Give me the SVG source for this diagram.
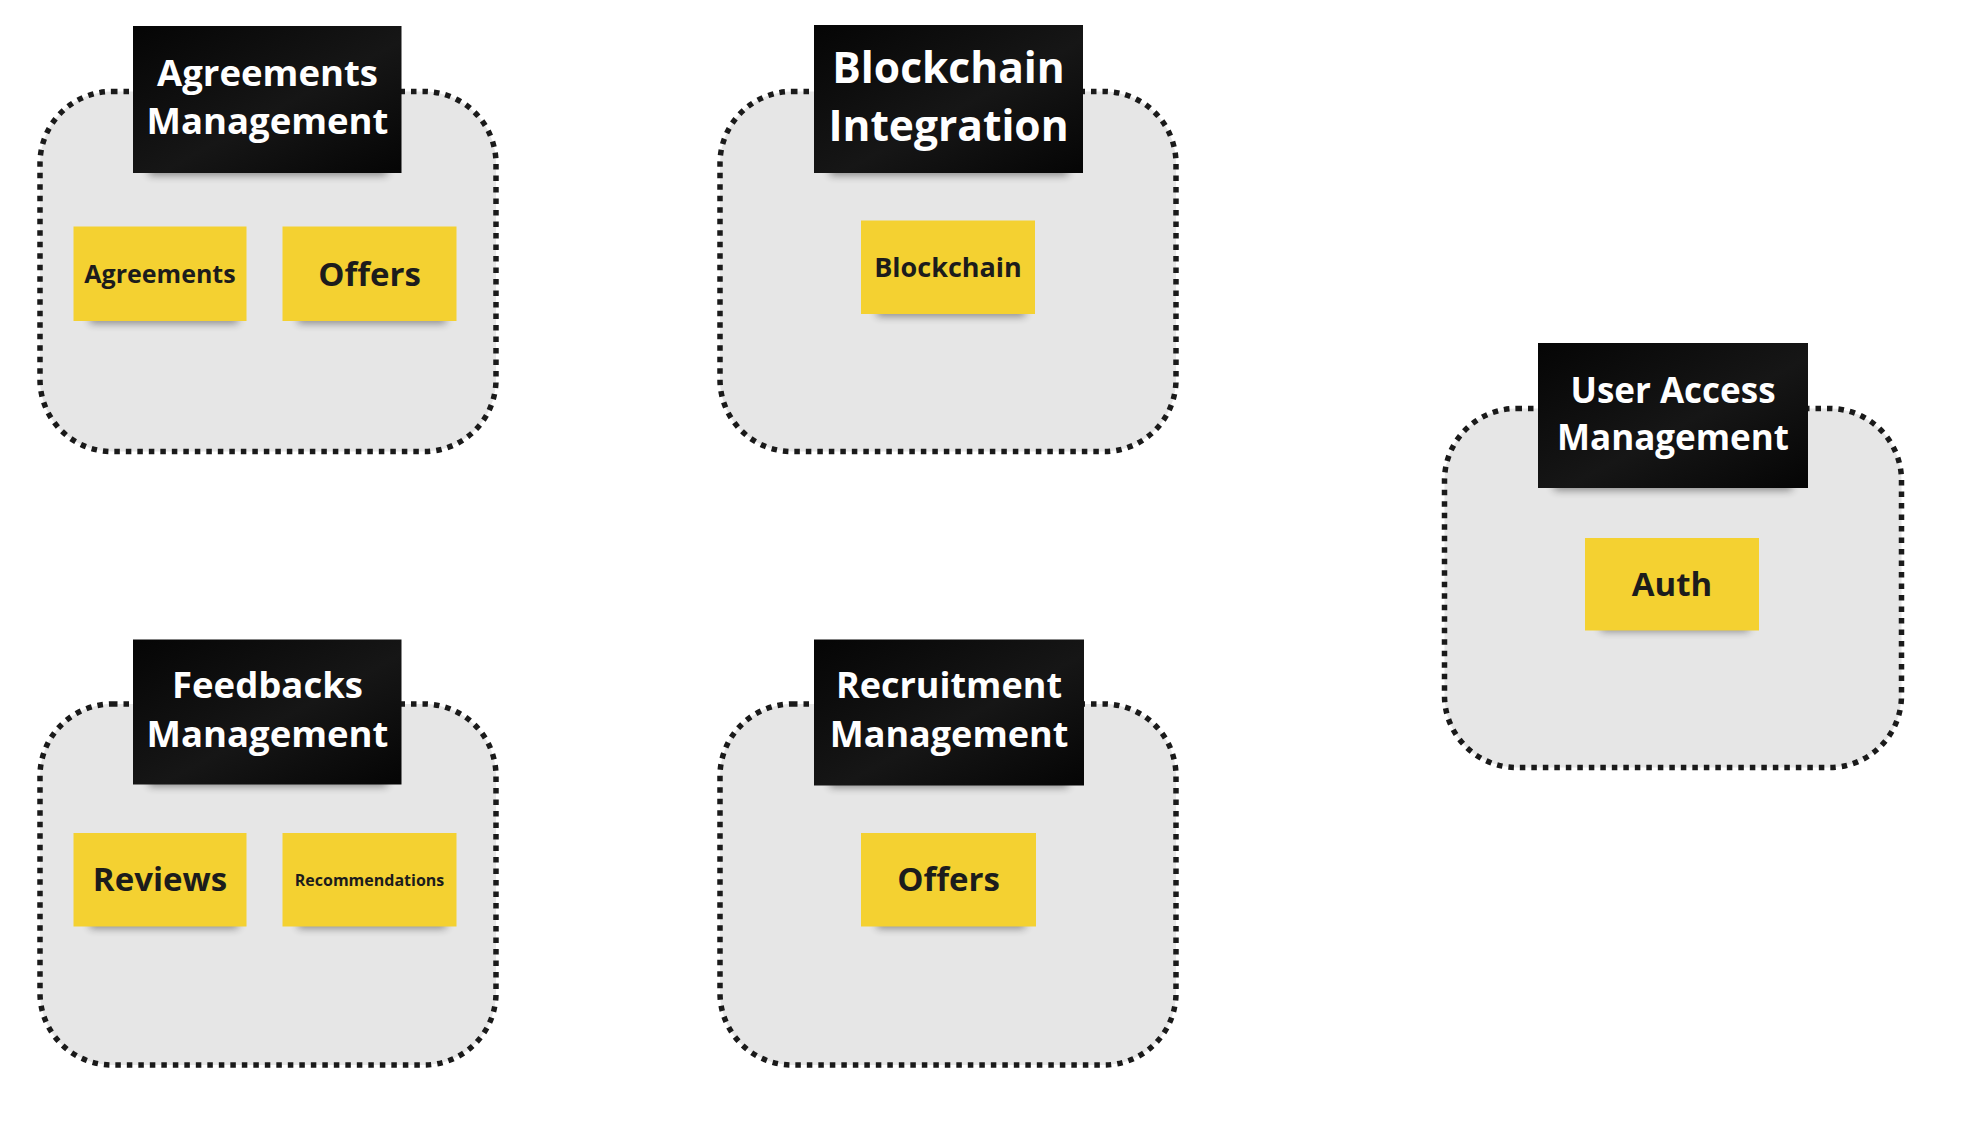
<svg xmlns="http://www.w3.org/2000/svg" width="1965" height="1145" viewBox="0 0 1965 1145">
<style>
.frame{fill:#e6e6e6;stroke:#1a1a1a;stroke-width:5.5;stroke-dasharray:5.5 6}
.hdr{fill:url(#hg)}
.hdrtxt{font-family:"Open Sans","Noto Sans","Liberation Sans",sans-serif;font-weight:700;fill:#ffffff;text-anchor:middle}
.note{fill:#f4d131}
.notetxt{font-family:"Open Sans","Noto Sans","Liberation Sans",sans-serif;font-weight:700;fill:#1c1c1c;text-anchor:middle}
.shadow{fill:#000;opacity:0.45;filter:url(#blur)}
</style>
<defs>
<linearGradient id="hg" x1="0" y1="0" x2="1" y2="1">
<stop offset="0" stop-color="#050505"/>
<stop offset="0.55" stop-color="#161616"/>
<stop offset="1" stop-color="#050505"/>
</linearGradient>
<filter id="blur" x="-20%" y="-100%" width="140%" height="300%">
<feGaussianBlur stdDeviation="4"/>
</filter>
</defs>
<rect width="1965" height="1145" fill="#ffffff"/>

<g id="agreements-management">
<rect class="frame" x="40" y="91.5" width="456" height="360" rx="72"/>
<rect class="shadow" x="149" y="165" width="238" height="10"/>
<rect class="hdr" x="133" y="26" width="268.5" height="147"/>
<text class="hdrtxt" font-size="36.5" x="267.5" y="85.5">Agreements</text>
<text class="hdrtxt" font-size="36.5" x="267.5" y="134">Management</text>
<g id="note-agreements">
<rect class="shadow" x="90" y="314" width="148" height="9"/>
<rect class="note" x="73.5" y="226.5" width="173" height="94.5"/>
<text class="notetxt" font-size="25" x="160" y="282.5">Agreements</text>
</g>
<g id="note-offers-1">
<rect class="shadow" x="298" y="314" width="148" height="9"/>
<rect class="note" x="282.5" y="226.5" width="174" height="94.5"/>
<text class="notetxt" font-size="33" x="369.5" y="285.5">Offers</text>
</g>
</g>

<g id="blockchain-integration">
<rect class="frame" x="720" y="91.5" width="456" height="360" rx="72"/>
<rect class="shadow" x="830" y="165" width="238" height="10"/>
<rect class="hdr" x="814" y="25" width="269" height="148"/>
<text class="hdrtxt" font-size="42.5" x="948.5" y="82.5">Blockchain</text>
<text class="hdrtxt" font-size="42.5" x="948.5" y="141">Integration</text>
<g id="note-blockchain">
<rect class="shadow" x="877" y="307" width="148" height="9"/>
<rect class="note" x="861" y="220.5" width="174" height="93.5"/>
<text class="notetxt" font-size="27" x="948" y="276.5">Blockchain</text>
</g>
</g>

<g id="user-access-management">
<rect class="frame" x="1444.5" y="408.5" width="457" height="359" rx="72"/>
<rect class="shadow" x="1554" y="480" width="238" height="10"/>
<rect class="hdr" x="1538" y="343" width="270" height="145"/>
<text class="hdrtxt" font-size="35" x="1673" y="402.5">User Access</text>
<text class="hdrtxt" font-size="35" x="1673" y="450">Management</text>
<g id="note-auth">
<rect class="shadow" x="1601" y="622" width="148" height="9"/>
<rect class="note" x="1585" y="538" width="174" height="92.5"/>
<text class="notetxt" font-size="33" x="1672" y="595.5">Auth</text>
</g>
</g>

<g id="feedbacks-management">
<rect class="frame" x="40" y="704" width="456" height="361" rx="72"/>
<rect class="shadow" x="149" y="776" width="238" height="10"/>
<rect class="hdr" x="133" y="639.5" width="268.5" height="145"/>
<text class="hdrtxt" font-size="36.5" x="267.5" y="698">Feedbacks</text>
<text class="hdrtxt" font-size="36.5" x="267.5" y="746.5">Management</text>
<g id="note-reviews">
<rect class="shadow" x="90" y="919" width="148" height="9"/>
<rect class="note" x="73.5" y="833" width="173" height="93.5"/>
<text class="notetxt" font-size="33" x="160" y="891">Reviews</text>
</g>
<g id="note-recommendations">
<rect class="shadow" x="298" y="919" width="148" height="9"/>
<rect class="note" x="282.5" y="833" width="174" height="93.5"/>
<text class="notetxt" font-size="16" x="369.5" y="886">Recommendations</text>
</g>
</g>

<g id="recruitment-management">
<rect class="frame" x="720" y="704" width="456" height="361" rx="72"/>
<rect class="shadow" x="830" y="777" width="238" height="10"/>
<rect class="hdr" x="814" y="639.5" width="270" height="146"/>
<text class="hdrtxt" font-size="36" x="949" y="698">Recruitment</text>
<text class="hdrtxt" font-size="36" x="949" y="746.5">Management</text>
<g id="note-offers-2">
<rect class="shadow" x="877" y="919" width="148" height="9"/>
<rect class="note" x="861" y="833" width="175" height="93.5"/>
<text class="notetxt" font-size="33" x="948.5" y="891">Offers</text>
</g>
</g>

<g id="connectors"></g>
</svg>
